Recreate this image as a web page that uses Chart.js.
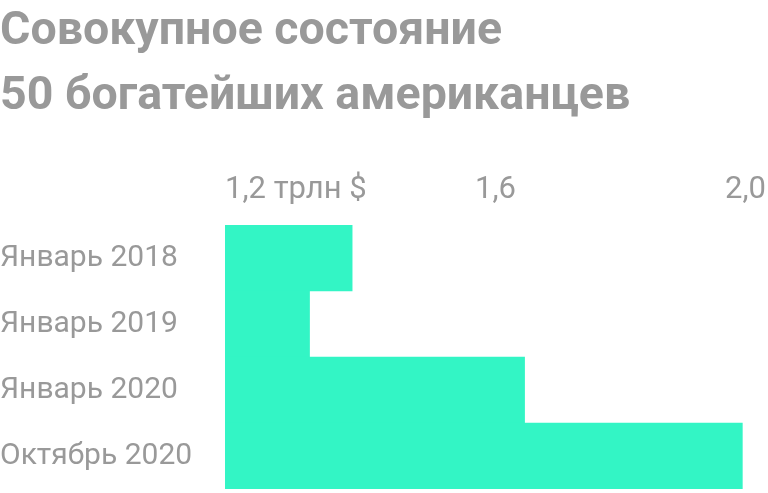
<!DOCTYPE html>
<html>
<head>
<meta charset="utf-8">
<script src="https://cdn.jsdelivr.net/npm/chart.js@4"></script>
<style>
  html, body { margin: 0; padding: 0; background: #fff; overflow: hidden; }
  #myChart { display: block; position: absolute; left: 0; top: 0; width: 768px; height: 493px; }
</style>
</head>
<body>
<canvas id="myChart" width="768" height="493"></canvas>
<script>
var categories = ["Январь 2018", "Январь 2019", "Январь 2020", "Октябрь 2020"];
var wealth = [1.388, 1.325, 1.643, 1.965];
var tickValues = [1.2, 1.6, 2.0];
var tickLabels = ["1,2 трлн $", "1,6", "2,0"];

var grey = "#999999";

// the axis labels must not push the plot area in
function noPadding(scale) {
    scale.paddingLeft = 0;
    scale.paddingRight = 0;
    scale.paddingTop = 0;
    scale.paddingBottom = 0;
}

const config = {
    type: "bar",
    data: {
        labels: categories,
        datasets: [
            {
                label: "Совокупное состояние",
                data: wealth,
                backgroundColor: "#33f5c5",
                borderWidth: 0,
                barPercentage: 1,
                categoryPercentage: 1,
            },
        ],
    },
    options: {
        indexAxis: "y",
        responsive: false,
        animation: false,
        layout: {
            padding: { left: 0, right: 2, top: 0, bottom: 4 },
        },
        plugins: {
            legend: { display: false },
            tooltip: { enabled: false },
            title: {
                display: true,
                text: ["Совокупное состояние", "50 богатейших американцев"],
                align: "start",
                color: grey,
                font: { family: "Roboto", size: 46.5, weight: "bold", lineHeight: "65px" },
                padding: { top: 0, bottom: 0 },
            },
        },
        scales: {
            x: {
                position: "top",
                min: 1.2,
                max: 2.0,
                grid: { display: false, drawTicks: false },
                border: { display: false },
                afterBuildTicks: function (scale) {
                    scale.ticks = tickValues.map(function (v) { return { value: v }; });
                },
                afterFit: function (scale) {
                    scale.height = 95;
                    noPadding(scale);
                },
                ticks: {
                    align: "inner",
                    padding: 16,
                    color: grey,
                    font: { family: "Roboto", size: 31 },
                    maxRotation: 0,
                    callback: function (value) {
                        let i = tickValues.indexOf(Math.round(value * 10) / 10);
                        return i >= 0 ? tickLabels[i] : "";
                    },
                },
            },
            y: {
                grid: { display: false, drawTicks: false },
                border: { display: false },
                afterFit: function (scale) {
                    scale.width = 225;
                    noPadding(scale);
                },
                ticks: {
                    crossAlign: "far",
                    padding: 0,
                    color: grey,
                    font: { family: "Roboto", size: 30 },
                },
            },
        },
    },
};

var myChart = new Chart(document.getElementById("myChart"), config);
</script>
</body>
</html>
